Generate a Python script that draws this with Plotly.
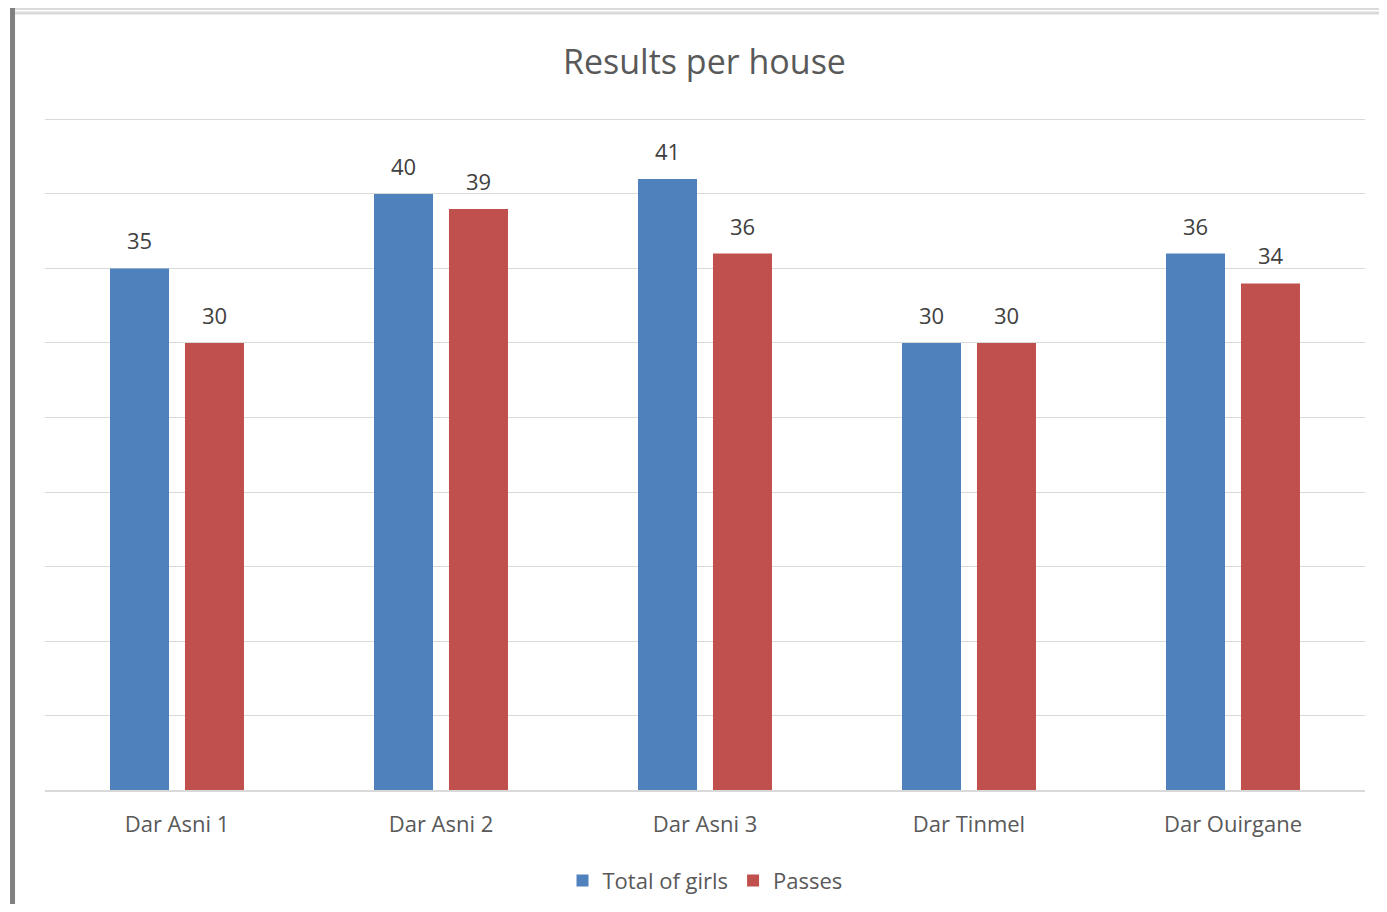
import plotly.graph_objects as go

houses = ["Dar Asni 1", "Dar Asni 2", "Dar Asni 3", "Dar Tinmel", "Dar Ouirgane"]
total_girls = [35, 40, 41, 30, 36]
passes = [30, 39, 36, 30, 34]

font_family = "Open Sans, Liberation Sans, sans-serif"
text_col = "#595959"

fig = go.Figure()
fig.add_trace(go.Bar(name="Total of girls", x=houses, y=total_girls, marker_color="#4F81BD",
                     marker_line_width=0))
fig.add_trace(go.Bar(name="Passes", x=houses, y=passes, marker_color="#C0504D",
                     marker_line_width=0))

annotations = []
for series, shift in ((total_girls, -37.5), (passes, 37.5)):
    for h, v in zip(houses, series):
        annotations.append(dict(x=h, y=v, text=str(v), showarrow=False, xshift=shift, yshift=28,
                                yanchor="middle",
                                font=dict(size=22, color="#404040", family=font_family)))

fig.update_layout(
    width=1371, height=896,
    margin=dict(l=37, r=14, t=110, b=114, autoexpand=False),
    paper_bgcolor="white", plot_bgcolor="white",
    barmode="group", bargap=0.432, bargroupgap=0.213,
    title=dict(text="Results per house", x=0.508, xanchor="center", y=0.94, yanchor="middle",
               font=dict(size=34, color=text_col, family=font_family)),
    font=dict(family=font_family, color=text_col),
    xaxis=dict(showgrid=False, showline=True, linecolor="#D9D9D9", linewidth=1.5,
               tickfont=dict(size=22, color=text_col), ticks="", ticklabelstandoff=14),
    yaxis=dict(range=[0, 45.1], dtick=5, showgrid=True, gridcolor="#D9D9D9", gridwidth=1,
               showticklabels=False, zeroline=False),
    legend=dict(orientation="h", x=0.5, xanchor="center", y=0.026, yanchor="middle",
                yref="container", font=dict(size=22, color=text_col), traceorder="normal"),
    annotations=annotations,
    shapes=[
        dict(type="line", xref="paper", yref="paper", x0=-0.0246, x1=-0.0246, y0=-0.3, y1=1.3,
             line=dict(color="#808080", width=5)),
        dict(type="line", xref="paper", yref="paper", x0=-0.0227, x1=1.02, y0=1.1622, y1=1.1622,
             line=dict(color="#DADADA", width=2)),
        dict(type="line", xref="paper", yref="paper", x0=-0.0227, x1=1.02, y0=1.15625, y1=1.15625,
             line=dict(color="#DADADA", width=3)),
    ],
)

fig.write_html("out.html")
